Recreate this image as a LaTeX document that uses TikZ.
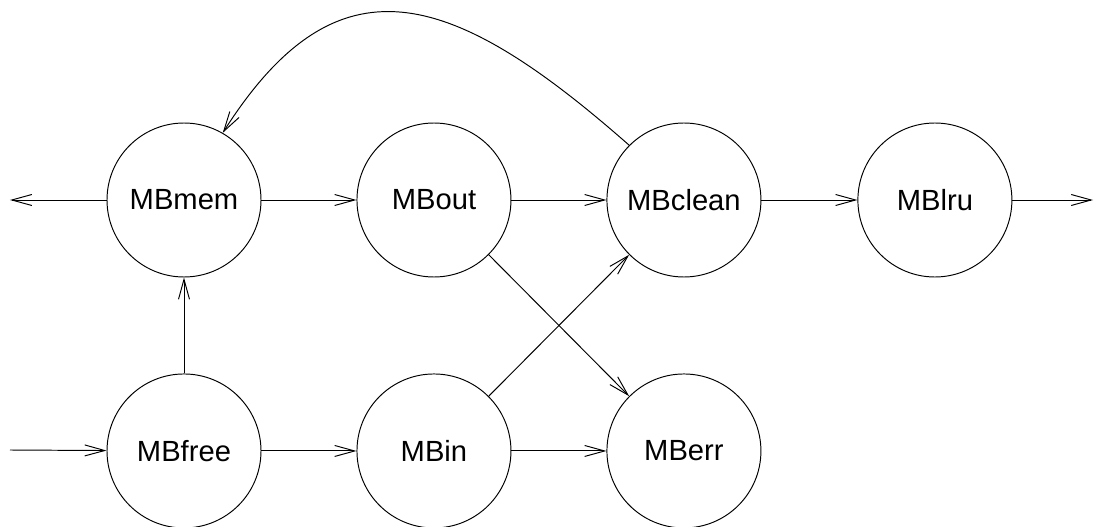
\documentclass[tikz,border=0pt]{standalone}
\usepackage{fontspec}
\setmainfont{Liberation Sans}
\usetikzlibrary{positioning,arrows.meta}

\begin{document}
\begin{tikzpicture}[line width=0.55pt]
	\tikzset{mbstate/.style={draw, circle, minimum size=3.08cm, inner sep=0pt, font=\fontsize{16.6}{20}\selectfont}}
	\tikzset{flow/.style={-{Straight Barb[length=0.4cm, width=0.22cm, line width=0.55pt]}}}

	\useasboundingbox (0,0) rectangle (21.9,-10.54);

	% upper row
	\node[mbstate] (mem) at (3.68,-4.0) {MBmem};
	\node[mbstate, right=1.9cm of mem] (out) {MBout};
	\node[mbstate, right=1.9cm of out] (clean) {MBclean};
	\node[mbstate, right=1.92cm of clean] (lru) {MBlru};

	% lower row
	\node[mbstate, below=1.92cm of mem] (free) {MBfree};
	\node[mbstate, right=1.9cm of free] (in) {MBin};
	\node[mbstate, right=1.9cm of in] (err) {MBerr};

	\coordinate (exitl) at (0.2,-4.0);
	\coordinate (exitr) at (21.86,-4.0);
	\coordinate (entry) at (0.2,-9.0);

	\draw[flow] (mem) -- (exitl);
	\draw[flow] (mem) -- (out);
	\draw[flow] (out) -- (clean);
	\draw[flow] (clean) -- (lru);
	\draw[flow] (lru) -- (exitr);
	\draw[flow] (entry) -- (free);
	\draw[flow] (free) -- (mem);
	\draw[flow] (free) -- (in);
	\draw[flow] (in) -- (err);
	\draw[flow] (in.45) -- (clean.-135);
	\draw[flow] (out.-45) -- (err.135);
	\draw[flow] (clean.135) .. controls (9.0,0.25) and (6.74,0.94) .. (mem.60);
\end{tikzpicture}
\end{document}
